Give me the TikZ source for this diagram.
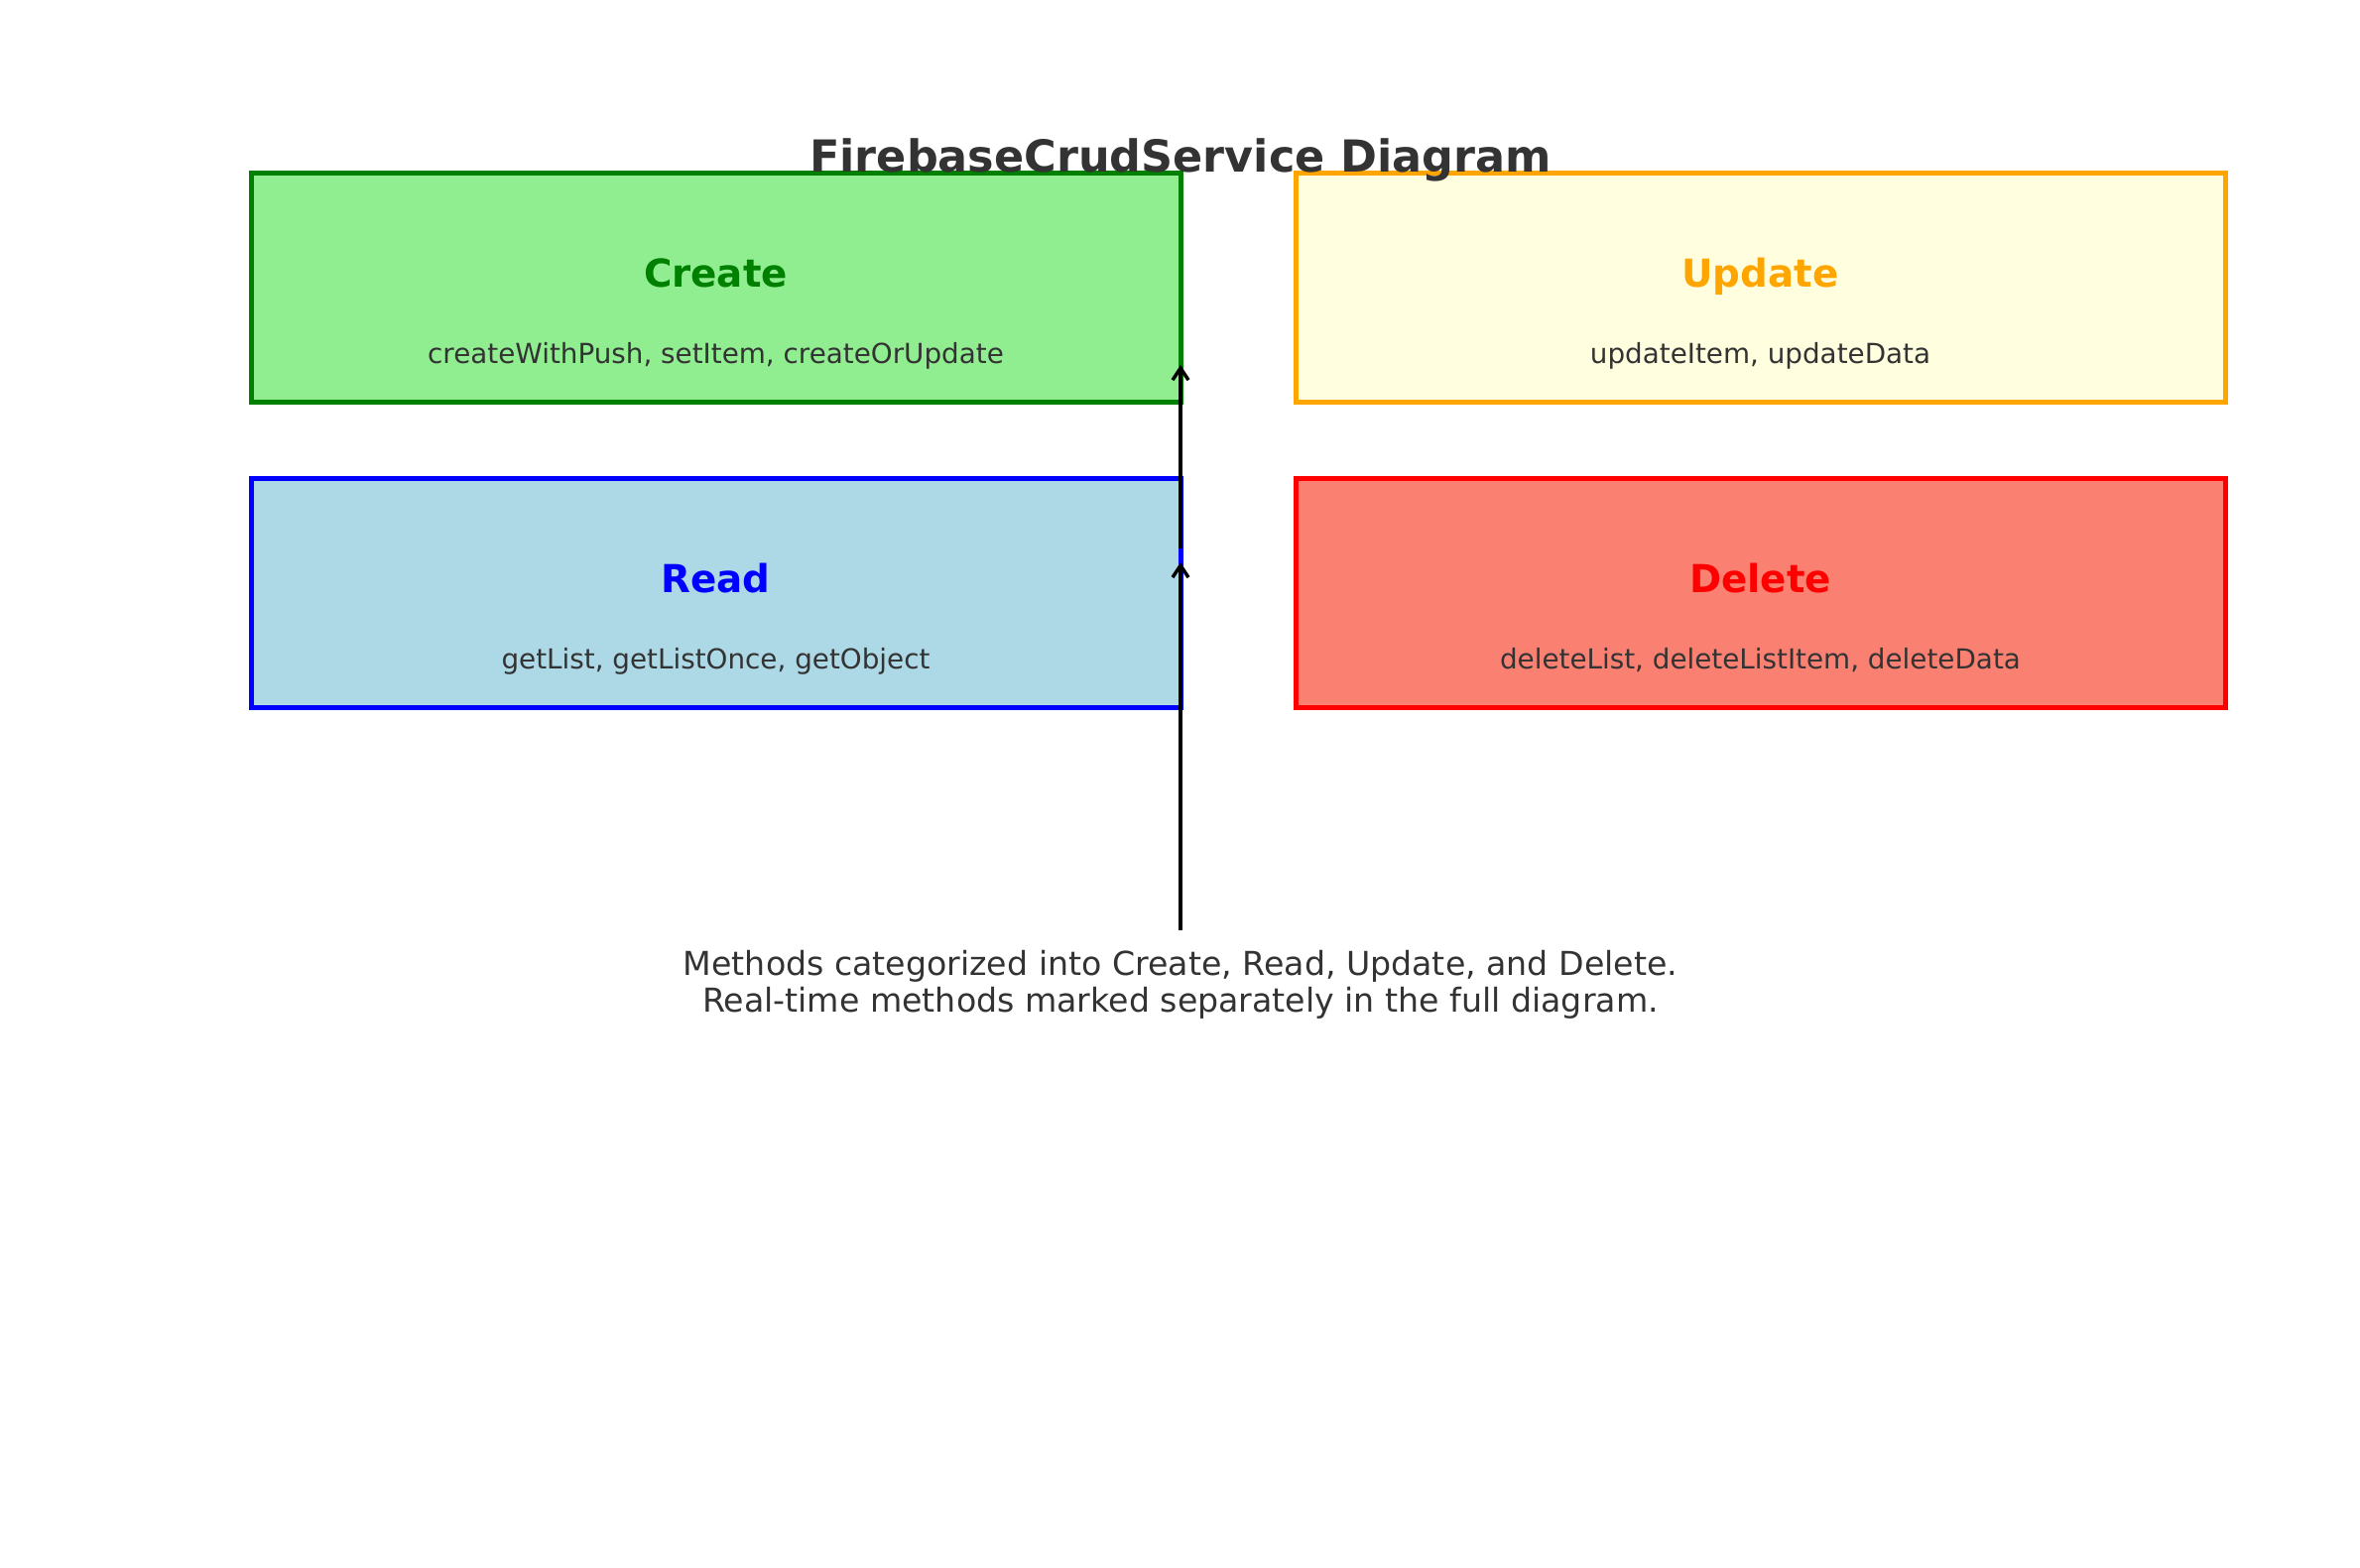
\documentclass[tikz,border=0pt]{standalone}
\usepackage{fontspec}
\setmainfont{DejaVu Sans}
\usetikzlibrary{arrows.meta}
\definecolor{txt}{HTML}{333333}
\definecolor{cfill}{HTML}{90EE90}
\definecolor{cline}{HTML}{008000}
\definecolor{ufill}{HTML}{FFFFE0}
\definecolor{uline}{HTML}{FFA500}
\definecolor{rfill}{HTML}{ADD8E6}
\definecolor{rline}{HTML}{0000FF}
\definecolor{dfill}{HTML}{FA8072}
\definecolor{dline}{HTML}{FF0000}
\tikzset{
  catbox/.style={rectangle, line width=5pt, minimum width=937pt, minimum height=231pt, inner sep=0pt, outer sep=0pt},
  cattitle/.style={anchor=base, inner sep=0pt, font=\fontsize{38.8}{46}\selectfont\bfseries},
  catmeth/.style={anchor=base, inner sep=0pt, text=txt, font=\fontsize{27.8}{33}\selectfont},
  notetext/.style={anchor=base, inner sep=0pt, text=txt, font=\fontsize{33.2}{40}\selectfont},
  arr/.style={line width=3.5pt, -{Straight Barb[length=12pt,width=16pt,line width=3.5pt]}}
}
\begin{document}
\begin{tikzpicture}[x=1pt,y=-1pt]
\useasboundingbox (0,0) rectangle (2379,1580);
\fill[white] (0,0) rectangle (2379,1580);
% boxes
\node[catbox, fill=cfill, draw=cline] (create) at (721.5,289.5) {};
\node[catbox, fill=ufill, draw=uline] (update) at (1774.5,289.5) {};
\node[catbox, fill=rfill, draw=rline] (read) at (721.5,597.5) {};
\node[catbox, fill=dfill, draw=dline] (delete) at (1774.5,597.5) {};
% title
\node[anchor=base, inner sep=0pt, text=txt, font=\fontsize{44.5}{54}\selectfont\bfseries] (title) at (1190,173) {FirebaseCrudService Diagram};
% labels
\node[cattitle, text=cline] (createlbl) at (721.5,289) {Create};
\node[catmeth] (createm) at (721.5,366) {createWithPush, setItem, createOrUpdate};
\node[cattitle, text=uline] (updatelbl) at (1774.5,289) {Update};
\node[catmeth] (updatem) at (1774.5,366) {updateItem, updateData};
\node[cattitle, text=rline] (readlbl) at (721.5,597) {Read};
\node[catmeth] (readm) at (721.5,674) {getList, getListOnce, getObject};
\node[cattitle, text=dline] (deletelbl) at (1774.5,597) {Delete};
\node[catmeth] (deletem) at (1774.5,674) {deleteList, deleteListItem, deleteData};
% note
\node[notetext] (note1) at (1190,983) {Methods categorized into Create, Read, Update, and Delete.};
\node[notetext] (note2) at (1190,1020) {Real-time methods marked separately in the full diagram.};
% arrows
\draw[arr] ([yshift=44.5pt]read.east) -- ([yshift=-78.5pt]create.east);
\draw[arr] ([yshift=20pt]note1.north) -- ([yshift=30.5pt]read.east);
\end{tikzpicture}
\end{document}
